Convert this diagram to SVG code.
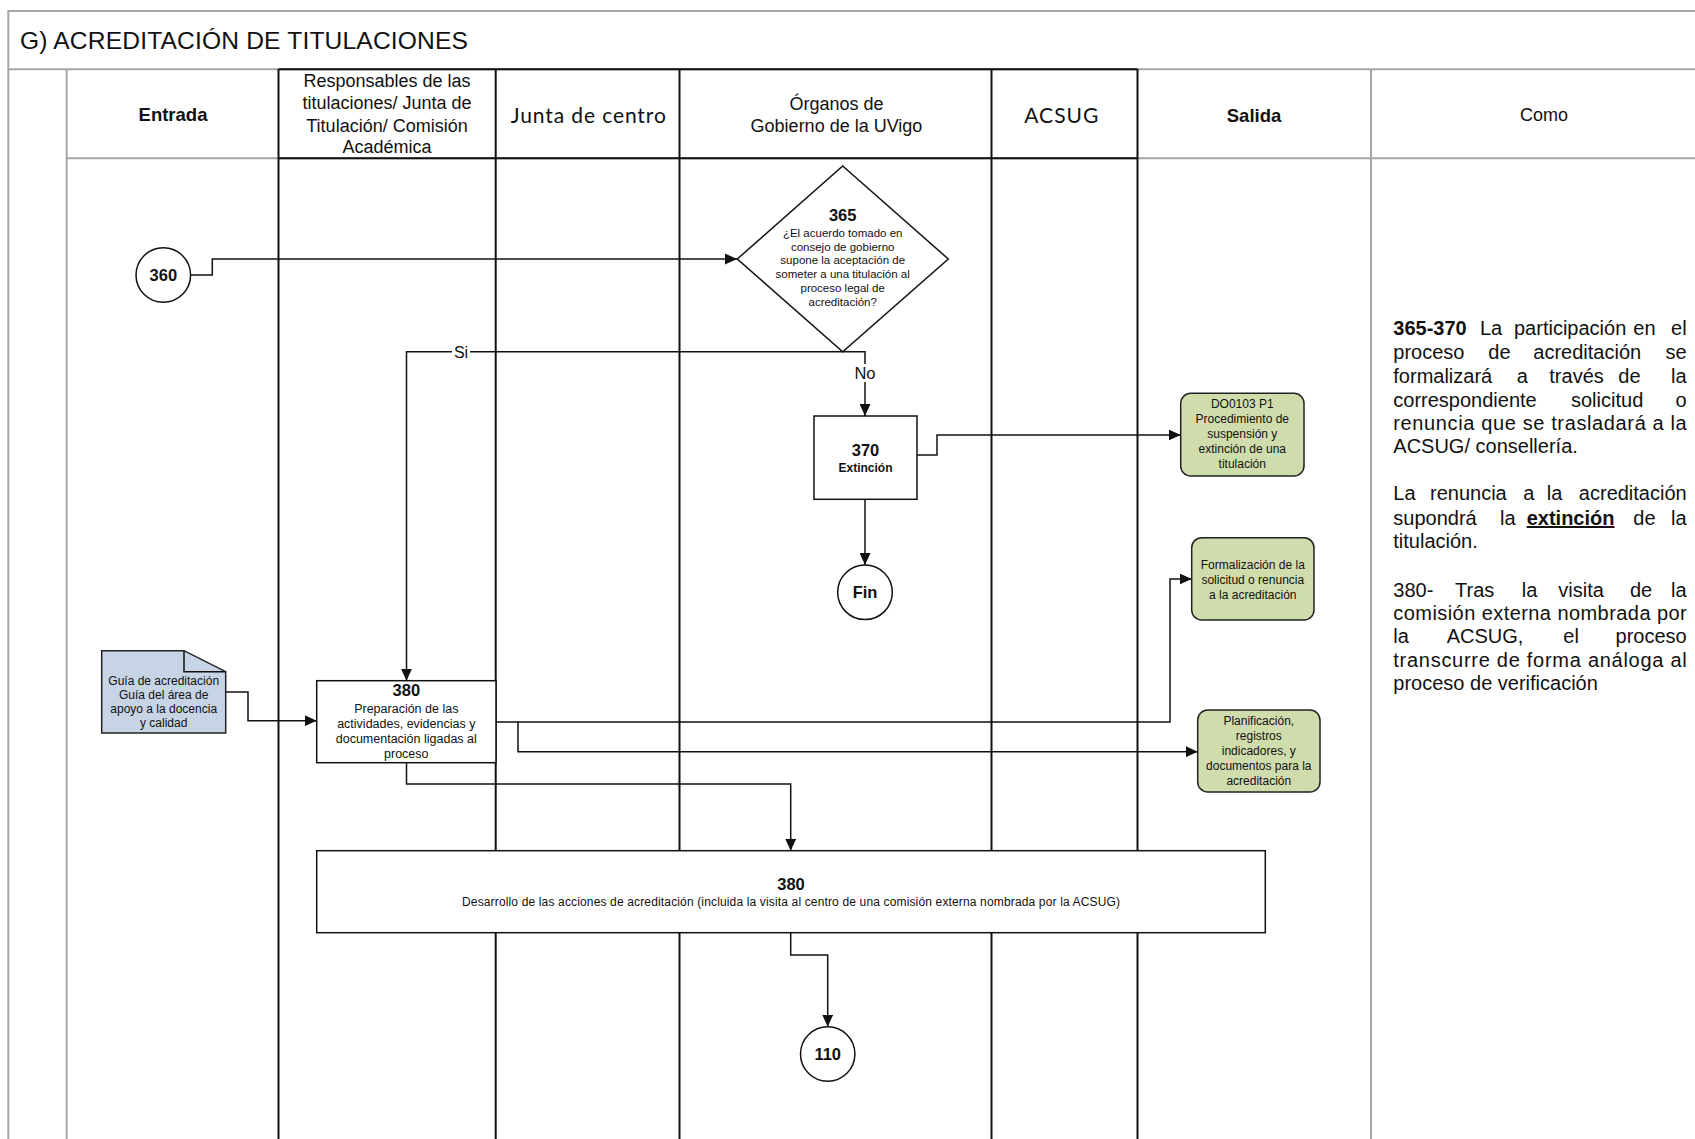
<svg xmlns="http://www.w3.org/2000/svg" width="1695" height="1139" viewBox="0 0 1695 1139">
<style>
text{font-family:"Liberation Sans",Arial,sans-serif;fill:#111}
.gray{stroke:#a6a6a6;stroke-width:2;fill:none}
.lane{stroke:#111;stroke-width:2;fill:none}
.node{fill:#fff;stroke:#111;stroke-width:1.5}
.green{fill:#cfddad;stroke:#222;stroke-width:1.5}
.doc{fill:#c6d4e6;stroke:#222;stroke-width:1.5}
.conn{stroke:#111;stroke-width:1.5;fill:none}
.hdr{font-size:18px;text-anchor:middle}
.hdrb{font-size:18.5px;font-weight:bold;text-anchor:middle}
.cal{font-family:Lato,"Open Sans",sans-serif;font-size:21px;text-anchor:middle}
.num{font-size:16.5px;font-weight:bold;text-anchor:middle}
.s12{font-size:12px;text-anchor:middle}
.s115{font-size:11.5px;text-anchor:middle}
.como{font-size:20px}
.end{text-anchor:end}
</style>
<defs>
<marker id="arr" markerUnits="userSpaceOnUse" markerWidth="12" markerHeight="11" refX="12" refY="5.5" orient="auto">
<path d="M0,0 L12,5.5 L0,11 Z" fill="#111"/>
</marker>
</defs>
<rect width="1695" height="1139" fill="#fff"/>

<g id="frame">
<path class="gray" d="M8.3,1139 V11 H1695"/>
<path class="gray" d="M8.3,69.3 H1695"/>
<path class="gray" d="M66.7,69.3 V1139"/>
<path class="gray" d="M66.7,158.3 H1695"/>
<path class="gray" d="M1371,69.3 V1139"/>
<path class="lane" d="M278.5,69.3 H1137.5 M278.5,158.3 H1137.5"/>
<path class="lane" d="M278.5,69.3 V1139 M495.7,69.3 V1139 M679.5,69.3 V1139 M991.5,69.3 V1139 M1137.5,69.3 V1139"/>
<text x="20" y="49.3" font-size="24.6" textLength="448">G) ACREDITACIÓN DE TITULACIONES</text>
<text class="hdrb" x="173" y="120.7">Entrada</text>
<text class="hdr" x="387" y="87.3">Responsables de las</text>
<text class="hdr" x="387" y="109">titulaciones/ Junta de</text>
<text class="hdr" x="387" y="131.7">Titulación/ Comisión</text>
<text class="hdr" x="387" y="153.3">Académica</text>
<text class="cal" x="588.3" y="123.3" textLength="155">Junta de centro</text>
<text class="hdr" x="836.5" y="110">Órganos de</text>
<text class="hdr" x="836.5" y="131.7">Gobierno de la UVigo</text>
<text class="cal" x="1061.3" y="123.3" textLength="74">ACSUG</text>
<text class="hdrb" x="1254" y="121.7">Salida</text>
<text class="hdr" x="1544" y="121">Como</text>
</g>

<g id="connectors">
<path class="conn" marker-end="url(#arr)" d="M190.7,275 H212.3 V259 H737"/>
<path class="conn" marker-end="url(#arr)" d="M842.7,351.7 H406.5 V680.7"/>
<path class="conn" marker-end="url(#arr)" d="M842.7,351.7 H865 V416"/>
<path class="conn" marker-end="url(#arr)" d="M865,499.3 V565"/>
<path class="conn" marker-end="url(#arr)" d="M917,455 H937 V435 H1180.7"/>
<path class="conn" marker-end="url(#arr)" d="M225.7,692 H248 V720.7 H316.7"/>
<path class="conn" marker-end="url(#arr)" d="M496,722 H1170 V579 H1191.7"/>
<path class="conn" marker-end="url(#arr)" d="M518,722 V751.7 H1197.7"/>
<path class="conn" marker-end="url(#arr)" d="M406.5,762.7 V784 H790.7 V850.7"/>
<path class="conn" marker-end="url(#arr)" d="M790.7,932.7 V955 H827.7 V1026.7"/>
<rect x="452" y="344" width="18" height="16" fill="#fff"/>
<text x="461" y="357.8" font-size="16" text-anchor="middle">Si</text>
<rect x="854" y="364" width="22" height="18" fill="#fff"/>
<text x="865" y="379" font-size="16.5" text-anchor="middle">No</text>
</g>

<g id="n360">
<circle class="node" cx="163.3" cy="275" r="27.3"/>
<text class="num" x="163.3" y="281">360</text>
</g>

<g id="n365">
<path class="node" d="M842.7,166 L948.3,259 L842.7,351.7 L737.3,259 Z"/>
<text class="num" x="842.7" y="220.7">365</text>
<text class="s115" x="842.7" y="237.3">¿El acuerdo tomado en</text>
<text class="s115" x="842.7" y="250.7">consejo de gobierno</text>
<text class="s115" x="842.7" y="264">supone la aceptación de</text>
<text class="s115" x="842.7" y="277.5">someter a una titulación al</text>
<text class="s115" x="842.7" y="291.5">proceso legal de</text>
<text class="s115" x="842.7" y="305.5">acreditación?</text>
</g>

<g id="n370">
<rect class="node" x="814" y="416" width="103" height="83.3"/>
<text class="num" x="865.5" y="456">370</text>
<text x="865.5" y="471.7" font-size="12" font-weight="bold" text-anchor="middle">Extinción</text>
</g>

<g id="fin">
<circle class="node" cx="865" cy="592.3" r="27.3"/>
<text class="num" x="865" y="598">Fin</text>
</g>

<g id="do0103">
<rect class="green" x="1180.7" y="393.3" width="123.3" height="82.7" rx="10"/>
<text class="s12" x="1242.3" y="408.3">DO0103 P1</text>
<text class="s12" x="1242.3" y="423.3">Procedimiento de</text>
<text class="s12" x="1242.3" y="438.3">suspensión y</text>
<text class="s12" x="1242.3" y="453.3">extinción de una</text>
<text class="s12" x="1242.3" y="468.3">titulación</text>
</g>

<g id="formalizacion">
<rect class="green" x="1191.7" y="537.7" width="122.3" height="82.3" rx="10"/>
<text class="s12" x="1252.8" y="568.5">Formalización de la</text>
<text class="s12" x="1252.8" y="583.5">solicitud o renuncia</text>
<text class="s12" x="1252.8" y="598.5">a la acreditación</text>
</g>

<g id="planificacion">
<rect class="green" x="1197.7" y="710" width="122.3" height="82" rx="10"/>
<text class="s12" x="1258.8" y="725">Planificación,</text>
<text class="s12" x="1258.8" y="740">registros</text>
<text class="s12" x="1258.8" y="755">indicadores, y</text>
<text class="s12" x="1258.8" y="770">documentos para la</text>
<text class="s12" x="1258.8" y="785">acreditación</text>
</g>

<g id="guia">
<path class="doc" d="M101.7,650.7 H184 L225.7,671.7 V733 H101.7 Z"/>
<path class="conn" d="M184,650.7 V671.7 H225.7"/>
<text class="s12" x="163.7" y="685">Guía de acreditación</text>
<text class="s12" x="163.7" y="699">Guía del área de</text>
<text class="s12" x="163.7" y="713.3">apoyo a la docencia</text>
<text class="s12" x="163.7" y="727.3">y calidad</text>
</g>

<g id="n380a">
<rect class="node" x="316.7" y="680.7" width="179.3" height="82"/>
<text class="num" x="406.3" y="695.5">380</text>
<text x="406.3" y="713.3" font-size="12.5" text-anchor="middle">Preparación de las</text>
<text x="406.3" y="728.3" font-size="12.5" text-anchor="middle">actividades, evidencias y</text>
<text x="406.3" y="743.3" font-size="12.5" text-anchor="middle">documentación ligadas al</text>
<text x="406.3" y="757.7" font-size="12.5" text-anchor="middle">proceso</text>
</g>

<g id="n380b">
<rect class="node" x="316.7" y="850.7" width="948.6" height="82"/>
<text class="num" x="791" y="890">380</text>
<text class="s12" x="791" y="905.7" textLength="658">Desarrollo de las acciones de acreditación (incluida la visita al centro de una comisión externa nombrada por la ACSUG)</text>
</g>

<g id="n110">
<circle class="node" cx="827.7" cy="1054" r="27.2"/>
<text class="num" x="827.7" y="1060">110</text>
</g>

<g id="como-text" class="como">
<text x="1393.3" y="335" font-weight="bold">365-370</text>
<text x="1480" y="335">La</text>
<text x="1514" y="335">participación</text>
<text x="1633.3" y="335">en</text>
<text x="1686.7" y="335" class="end">el</text>

<text x="1393.3" y="359.3">proceso</text>
<text x="1488.3" y="359.3">de</text>
<text x="1533.3" y="359.3">acreditación</text>
<text x="1686.7" y="359.3" class="end">se</text>

<text x="1393.3" y="383.3">formalizará</text>
<text x="1516.7" y="383.3">a</text>
<text x="1549.3" y="383.3">través</text>
<text x="1618.3" y="383.3">de</text>
<text x="1686.7" y="383.3" class="end">la</text>

<text x="1393.3" y="406.7">correspondiente</text>
<text x="1571" y="406.7">solicitud</text>
<text x="1686.7" y="406.7" class="end">o</text>

<text x="1393.3" y="430" textLength="293.4">renuncia que se trasladará a la</text>
<text x="1393.3" y="453.3">ACSUG/ consellería.</text>

<text x="1393.3" y="500">La</text>
<text x="1430" y="500">renuncia</text>
<text x="1523.3" y="500">a</text>
<text x="1546.7" y="500">la</text>
<text x="1686.7" y="500" class="end">acreditación</text>

<text x="1393.3" y="525">supondrá</text>
<text x="1500" y="525">la</text>
<text x="1526.7" y="525" font-weight="bold" text-decoration="underline">extinción</text>
<text x="1633.3" y="525">de</text>
<text x="1686.7" y="525" class="end">la</text>

<text x="1393.3" y="548.3">titulación.</text>

<text x="1393.3" y="596.7">380-</text>
<text x="1455" y="596.7">Tras</text>
<text x="1521.7" y="596.7">la</text>
<text x="1558.3" y="596.7">visita</text>
<text x="1630" y="596.7">de</text>
<text x="1686.7" y="596.7" class="end">la</text>

<text x="1393.3" y="620" textLength="293.4">comisión externa nombrada por</text>

<text x="1393.3" y="643.3">la</text>
<text x="1446.7" y="643.3">ACSUG,</text>
<text x="1563.3" y="643.3">el</text>
<text x="1686.7" y="643.3" class="end">proceso</text>

<text x="1393.3" y="666.7" textLength="293.4">transcurre de forma análoga al</text>
<text x="1393.3" y="690">proceso de verificación</text>
</g>
</svg>
